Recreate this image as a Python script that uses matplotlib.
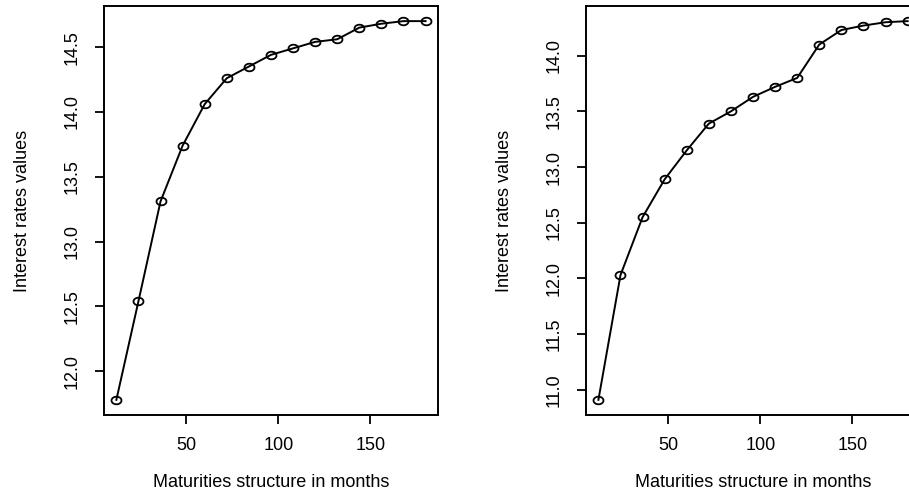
import matplotlib

matplotlib.use("Agg")
import matplotlib.pyplot as plt
import numpy as np
from matplotlib.path import Path

# maturities in months, shared by both panels
maturities = [12, 24, 36, 48, 60, 72, 84, 96, 108, 120, 132, 144, 156, 168, 180]

rates_left = [11.78, 12.54, 13.31, 13.74, 14.06, 14.26, 14.35, 14.44, 14.49,
              14.54, 14.56, 14.65, 14.68, 14.70, 14.70]
rates_right = [10.91, 12.03, 12.55, 12.89, 13.15, 13.39, 13.50, 13.63, 13.72,
               13.80, 14.10, 14.23, 14.27, 14.30, 14.31]

x_ticks = [50, 100, 150]
y_ticks_left = [12.0, 12.5, 13.0, 13.5, 14.0, 14.5]
y_ticks_right = [11.0, 11.5, 12.0, 12.5, 13.0, 13.5, 14.0]

x_label = "Maturities structure in months"
y_label = "Interest rates values"

plt.rcParams["font.family"] = ["Liberation Sans", "DejaVu Sans"]
plt.rcParams["font.size"] = 13

# the source image is slightly stretched sideways, so circles read as flat ellipses
theta = np.linspace(0, 2 * np.pi, 41)
flat_circle = Path(np.column_stack([np.cos(theta), 0.76 * np.sin(theta)]))


def r_style_panel(ax, x, y, yticks):
    ax.plot(x, y, color="black", linewidth=1.4, marker=flat_circle, markersize=7.2,
            markerfacecolor="none", markeredgecolor="black", markeredgewidth=1.3)
    # R pads the data range by 4% on each side
    xspan = max(x) - min(x)
    yspan = max(y) - min(y)
    ax.set_xlim(min(x) - 0.04 * xspan, max(x) + 0.04 * xspan)
    ax.set_ylim(min(y) - 0.04 * yspan, max(y) + 0.04 * yspan)
    ax.set_xticks(x_ticks)
    ax.set_xticklabels([str(t) for t in x_ticks])
    ax.set_yticks(yticks)
    ax.set_yticklabels([f"{t:.1f}" for t in yticks], rotation=90, va="center")
    ax.tick_params(axis="both", direction="out", length=6.5, width=1.3, color="black")
    ax.tick_params(axis="x", pad=9)
    ax.tick_params(axis="y", pad=10)
    for spine in ax.spines.values():
        spine.set_linewidth(1.4)
    ax.set_xlabel(x_label)
    ax.set_ylabel(y_label)
    ax.xaxis.set_label_coords(0.5, -0.166)
    ax.xaxis.label.set_va("center")
    ax.yaxis.set_label_coords(-0.2455, 0.5)
    ax.yaxis.label.set_va("center")


fig = plt.figure(figsize=(9.09, 4.98), dpi=100)
ax_left = fig.add_axes([0.1144, 0.1667, 0.3674, 0.8213])
ax_right = fig.add_axes([0.6447, 0.1667, 0.3674, 0.8213])

r_style_panel(ax_left, maturities, rates_left, y_ticks_left)
r_style_panel(ax_right, maturities, rates_right, y_ticks_right)

fig.savefig("out.png", dpi=100)
plt.close(fig)
